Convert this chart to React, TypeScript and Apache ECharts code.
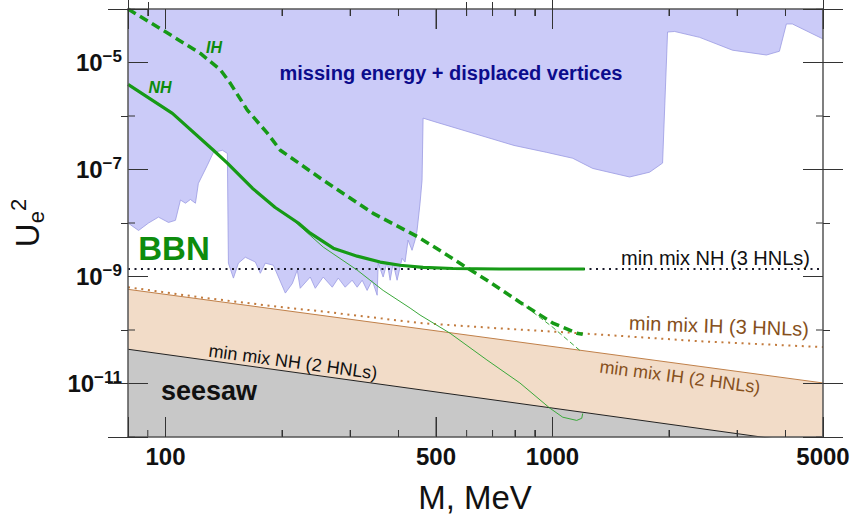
import React, { useEffect, useRef } from 'react';
import * as echarts from 'echarts';

// ---------- axis ranges & ticks ----------
const X_MIN = 80;
const X_MAX = 5000;
const Y_MIN_EXP = -12;
const Y_MAX_EXP = -4;
const xMajorTicks = [100, 500, 1000, 5000];
const xMinorTicks = [90, 200, 300, 400, 600, 700, 800, 900, 2000, 3000, 4000];
const yLabelExps = [-5, -7, -9, -11];
const yMinorExps = [-4, -6, -8, -10, -12];

// ---------- data (M in MeV, log10 of U_e^2) ----------
// lower edge of "missing energy + displaced vertices" excluded region
const blueM = [80, 85.2, 90.4, 95.9, 101.8, 106.1, 109.3, 112.6, 116, 119.5, 121.6, 128.3, 133, 140.3, 144.5,
  145.4, 149.8, 154.3, 160.8, 170.7, 175.8, 181.1, 190, 204, 212.7, 219, 222.9, 236.6, 243.8, 255.6, 269.7,
  279.5, 291.3, 303.6, 312.8, 322.3, 331.9, 342, 352.3, 354.4, 365.1, 373.9, 380.6, 387.4, 396.7, 408.6,
  415.9, 423.4, 433.6, 441.4, 446.7, 454.7, 460.2, 463, 503, 794.9, 966.7, 1128, 1270, 1582, 1782, 1925,
  1983, 2068, 2399, 2918, 3571, 3858, 4021, 4167, 5000];
const blueLogU = [-8.0, -8.14, -8.0, -7.89, -7.99, -7.95, -7.57, -7.63, -7.56, -7.63, -7.26, -6.92, -6.68, -6.64, -6.7,
  -8.75, -9.03, -8.75, -8.64, -8.73, -8.94, -8.75, -8.79, -9.31, -9.13, -8.88, -9.22, -9.01, -9.22, -9.01, -9.2,
  -9.03, -9.2, -9.07, -9.2, -9.07, -9.26, -9.07, -9.35, -8.75, -9.01, -8.73, -9.07, -8.75, -9.07, -8.66,
  -8.73, -8.32, -8.51, -8.32, -8.14, -7.63, -7.2, -6.04, -6.12, -6.55, -6.68, -6.79, -6.98, -7.14, -7.05, -6.88,
  -4.43, -4.42, -4.53, -4.77, -4.86, -4.79, -4.28, -4.28, -4.56];

// BBN bound, normal hierarchy (thick solid)
const nhM = [80, 104.2, 133, 144.5, 167.7, 192.1, 220.3, 236.6, 271.3, 312.8, 358.6, 403.8, 463, 553.2, 731.3, 1211];
const nhLogU = [-5.41, -5.95, -6.64, -6.88, -7.35, -7.71, -8.0, -8.19, -8.47, -8.62, -8.73, -8.79, -8.83, -8.85, -8.86, -8.86];
// BBN bound, normal hierarchy (thin solid)
const nhThinM = [210.1, 255.6, 312.8, 365.1, 428.6, 454.7, 543.5, 676.9, 823.6, 984.1, 1063, 1155, 1190, 1197];
const nhThinLogU = [-7.9, -8.45, -8.88, -9.26, -9.59, -9.72, -10.06, -10.56, -10.99, -11.46, -11.63, -11.69, -11.65, -11.56];
// BBN bound, inverted hierarchy (thick dashed)
const ihM = [80, 101.2, 123.1, 138.7, 147.1, 162.7, 183.3, 198, 255.6, 344, 446.7, 521.2, 587, 676.9, 823.6, 1002, 1155, 1197];
const ihLogU = [-4.0, -4.45, -4.83, -5.14, -5.39, -5.89, -6.32, -6.64, -7.2, -7.82, -8.25, -8.55, -8.79, -9.07, -9.48, -9.87, -10.06, -10.08];
// BBN bound, inverted hierarchy (thin dashed)
const ihThinM = [823.6, 1002, 1176];
const ihThinLogU = [-9.48, -9.95, -10.38];
// min mix IH (3 HNLs), dotted
const ih3M = [80, 123.1, 198, 258.7, 454.7, 731.3, 1176, 2399, 5000];
const ih3LogU = [-9.2, -9.39, -9.57, -9.66, -9.87, -9.97, -10.06, -10.21, -10.32];
// min mix NH (3 HNLs), dotted
const nh3M = [80, 5000];
const nh3LogU = [-8.86, -8.86];
// min mix IH (2 HNLs)
const ih2M = [80, 5000];
const ih2LogU = [-9.24, -10.99];
// min mix NH (2 HNLs) / seesaw
const nh2M = [80, 5000];
const nh2LogU = [-10.36, -12.16];

const FONT = "'Liberation Sans', Arial, Helvetica, sans-serif";
const GREEN = '#169a16';
const GREEN_TEXT = '#0d8c0d';
const BROWN = '#86501c';

// layout
const GRID = { left: 128, right: 30, top: 9, bottom: 82 };
const GRID_W = 853 - GRID.left - GRID.right;
const GRID_H = 519 - GRID.top - GRID.bottom;
const TICK_MAJOR_PX = 20;
const TICK_MINOR_PX = 7;
const TICK_LINE = { color: '#333', width: 1 };

const lg = (v: number) => Math.log10(v);
const pts = (ms: number[], ls: number[]) => ms.map((m, i) => [lg(m), ls[i]]);

const LX_MIN = lg(X_MIN);
const LX_MAX = lg(X_MAX);
const xFrac = (m: number) => (lg(m) - LX_MIN) / (LX_MAX - LX_MIN);
const yFrac = (e: number) => (e - Y_MIN_EXP) / (Y_MAX_EXP - Y_MIN_EXP);
// tick lengths expressed in axis units
const xLen = (px: number) => (px / GRID_H) * (Y_MAX_EXP - Y_MIN_EXP);
const yLen = (px: number) => (px / GRID_W) * (LX_MAX - LX_MIN);

const xAxisCfg = (position: string, withLabel: boolean) => ({
  type: 'value',
  position,
  min: LX_MIN,
  max: LX_MAX,
  z: 4,
  splitLine: { show: false },
  axisLine: { show: true, onZero: false, lineStyle: { color: '#555', width: 1.5 } },
  axisTick: { show: false },
  axisLabel: withLabel
    ? {
        show: true,
        customValues: xMajorTicks.map(lg),
        formatter: (v: number) => String(Math.round(Math.pow(10, v))),
        margin: 7,
        fontSize: 24,
        fontWeight: 'bold',
        fontFamily: FONT,
        color: '#111',
      }
    : { show: false },
});

const yAxisCfg = (position: string, withLabel: boolean) => ({
  type: 'value',
  position,
  min: Y_MIN_EXP,
  max: Y_MAX_EXP,
  z: 4,
  splitLine: { show: false },
  axisLine: { show: true, onZero: false, lineStyle: { color: '#555', width: 1.5 } },
  axisTick: { show: false },
  axisLabel: withLabel
    ? {
        show: true,
        customValues: yLabelExps,
        formatter: (v: number) => `{b|10}{s|\u2212${Math.abs(Math.round(v))}}`,
        margin: 6,
        rich: {
          b: { fontSize: 24, fontWeight: 'bold', fontFamily: FONT, color: '#111', lineHeight: 30 },
          s: { fontSize: 17, fontWeight: 'bold', fontFamily: FONT, color: '#111', verticalAlign: 'top', lineHeight: 17 },
        },
      }
    : { show: false },
});

// helper axis on a 0..1 scale whose native interval ticks land on one chosen fraction
const tickAxis = (position: string, f: number, len: number, fixedInterval?: number) => {
  const inv = fixedInterval == null && f <= 0.5;
  const interval = fixedInterval != null ? fixedInterval : inv ? 1 - f : f;
  return {
    type: 'value',
    position,
    min: 0,
    max: 1,
    interval,
    inverse: inv,
    z: 5,
    splitLine: { show: false },
    axisLine: { show: false },
    axisLabel: { show: false },
    axisTick: { show: true, inside: true, length: len, lineStyle: TICK_LINE },
  };
};

const xTickAxes: any[] = [];
['bottom', 'top'].forEach((pos) => {
  xMajorTicks.filter((m) => m < X_MAX).forEach((m) => xTickAxes.push(tickAxis(pos, xFrac(m), TICK_MAJOR_PX)));
  xMinorTicks.forEach((m) => xTickAxes.push(tickAxis(pos, xFrac(m), TICK_MINOR_PX)));
});
const yTickAxes: any[] = [];
['left', 'right'].forEach((pos) => {
  yLabelExps.forEach((e) => yTickAxes.push(tickAxis(pos, yFrac(e), TICK_MAJOR_PX)));
  yTickAxes.push(tickAxis(pos, yFrac(yMinorExps[1]), TICK_MINOR_PX, 1 / (Y_MAX_EXP - Y_MIN_EXP) * 2));
});

const lineSeries = (data: any[], lineStyle: any, extra: any = {}) => ({
  type: 'line',
  data,
  xAxisIndex: 0,
  yAxisIndex: 0,
  symbol: 'none',
  showSymbol: false,
  smooth: false,
  lineStyle,
  ...extra,
});

// tick marks also drawn as short segments on the data axes
const tickSeries: any[] = [];
[...xMajorTicks.map((m) => [lg(m), TICK_MAJOR_PX]), ...xMinorTicks.map((m) => [lg(m), TICK_MINOR_PX])].forEach(([v, px]) => {
  const d = xLen(px);
  tickSeries.push(lineSeries([[v, Y_MIN_EXP], [v, Y_MIN_EXP + d]], TICK_LINE));
  tickSeries.push(lineSeries([[v, Y_MAX_EXP], [v, Y_MAX_EXP - d]], TICK_LINE));
});
[...yLabelExps.map((e) => [e, TICK_MAJOR_PX]), ...yMinorExps.map((e) => [e, TICK_MINOR_PX])].forEach(([v, px]) => {
  const d = yLen(px);
  tickSeries.push(lineSeries([[LX_MIN, v], [LX_MIN + d, v]], TICK_LINE));
  tickSeries.push(lineSeries([[LX_MAX, v], [LX_MAX - d, v]], TICK_LINE));
});

const txt = (text: string, x: number, y: number, style: any, rotation = 0) => ({
  type: 'text',
  x,
  y,
  rotation,
  z: 20,
  style: { text, fontFamily: FONT, align: 'center', verticalAlign: 'middle', ...style },
});

const option: any = {
  animation: false,
  grid: { ...GRID, containLabel: false },
  xAxis: [xAxisCfg('bottom', true), xAxisCfg('top', false), ...xTickAxes],
  yAxis: [yAxisCfg('left', true), yAxisCfg('right', false), ...yTickAxes],
  series: [
    lineSeries(pts(ih2M, ih2LogU), { color: '#c0804a', width: 1 }, {
      areaStyle: { origin: 'start', color: '#f2dcc8', opacity: 1 },
    }),
    lineSeries(pts(nh2M, nh2LogU), { color: '#222', width: 1 }, {
      areaStyle: { origin: 'start', color: '#c8c8c8', opacity: 1 },
    }),
    lineSeries(pts(blueM, blueLogU), { color: '#9a9ae2', width: 0.8 }, {
      areaStyle: { origin: 'end', color: '#cbcbf8', opacity: 1 },
    }),
    lineSeries(pts(nh3M, nh3LogU), { color: '#1a1a2a', width: 2, type: [2, 4.5] }),
    lineSeries(pts(ih3M, ih3LogU), { color: '#c27a3c', width: 2, type: [2, 4.7] }),
    lineSeries(pts(nhThinM, nhThinLogU), { color: '#3aa83a', width: 1 }),
    lineSeries(pts(ihThinM, ihThinLogU), { color: '#3aa83a', width: 1, type: [5, 3] }),
    lineSeries(pts(nhM, nhLogU), { color: GREEN, width: 3.2 }),
    lineSeries(pts(ihM, ihLogU), { color: GREEN, width: 3.5, type: [9, 5] }),
    ...tickSeries,
  ],
  graphic: [
    txt('missing energy + displaced vertices', 451, 73, { fontSize: 20, fontWeight: 'bold', fill: '#0c0c8c' }),
    txt('IH', 214, 47, { fontSize: 16, fontWeight: 'bold', fontStyle: 'italic', fill: GREEN_TEXT }),
    txt('NH', 160, 87, { fontSize: 16, fontWeight: 'bold', fontStyle: 'italic', fill: GREEN_TEXT }),
    txt('BBN', 174, 248, { fontSize: 33, fontWeight: 'bold', fill: GREEN_TEXT }),
    txt('seesaw', 209, 391, { fontSize: 27, fontWeight: 'bold', fill: '#111' }),
    txt('min mix NH (3 HNLs)', 810, 258, { fontSize: 20, fill: '#111', align: 'right' }),
    txt('min mix IH (3 HNLs)', 719, 326, { fontSize: 20, fill: BROWN }, -0.035),
    txt('min mix IH (2 HNLs)', 680, 377, { fontSize: 18, fill: BROWN }, -0.13),
    txt('min mix NH (2 HNLs)', 293, 362, { fontSize: 18, fill: '#111' }, -0.135),
    txt('M, MeV', 475, 497, { fontSize: 33, fill: '#111' }),
    {
      type: 'text',
      x: 27,
      y: 223,
      rotation: Math.PI / 2,
      z: 20,
      style: {
        text: '{u|U}{e|e}{t|2}',
        align: 'center',
        verticalAlign: 'middle',
        rich: {
          u: { fontSize: 33, fontFamily: FONT, fill: '#111', lineHeight: 40 },
          e: { fontSize: 22, fontFamily: FONT, fill: '#111', verticalAlign: 'bottom', lineHeight: 22 },
          t: { fontSize: 22, fontFamily: FONT, fill: '#111', verticalAlign: 'top', lineHeight: 22 },
        },
      },
    },
  ],
};

export default function App() {
  const ref = useRef<HTMLDivElement>(null);
  useEffect(() => {
    document.body.style.margin = '0';
    const chart = echarts.init(ref.current as HTMLDivElement, null, { renderer: 'svg' });
    chart.setOption(option);
    return () => chart.dispose();
  }, []);
  return <div ref={ref} style={{ width: 853, height: 519 }} />;
}
